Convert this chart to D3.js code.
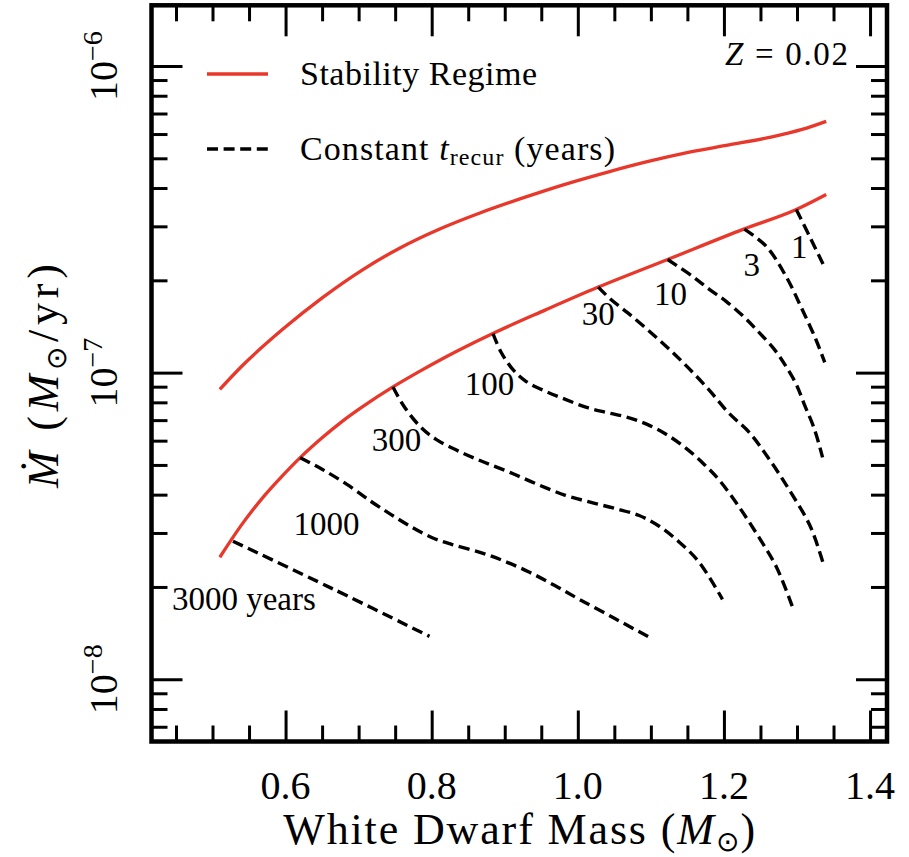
<!DOCTYPE html>
<meta charset="utf-8">
<style>
body { margin: 0; background: #fff; }
text { font-family: "Liberation Serif", "Times New Roman", serif; fill: #000; }
</style>
<svg width="909" height="857"></svg>
<script src="https://d3js.org/d3.v7.min.js"></script>
<script>

// stability regime boundaries: white dwarf mass (Msun) vs accretion rate (Msun/yr)
var upperMass = [0.510, 0.540, 0.596, 0.651, 0.707, 0.756, 0.811, 0.866, 0.929, 0.979, 1.041, 1.095, 1.151, 1.207, 1.262, 1.307, 1.340];
var upperMdot = [8.82e-8, 1.049e-7, 1.384e-7, 1.760e-7, 2.177e-7, 2.546e-7, 2.941e-7, 3.317e-7, 3.742e-7, 4.09e-7, 4.51e-7, 4.875e-7, 5.23e-7, 5.53e-7, 5.85e-7, 6.21e-7, 6.60e-7];

var lowerMass = [0.510, 0.539, 0.566, 0.594, 0.620, 0.650, 0.678, 0.706, 0.747, 0.784, 0.816, 0.883, 0.956, 1.028, 1.123, 1.227, 1.299, 1.340];
var lowerMdot = [2.50e-8, 3.17e-8, 3.84e-8, 4.56e-8, 5.28e-8, 6.13e-8, 6.95e-8, 7.76e-8, 8.98e-8, 1.011e-7, 1.114e-7, 1.339e-7, 1.602e-7, 1.901e-7, 2.339e-7, 2.938e-7, 3.404e-7, 3.811e-7];

// constant recurrence time contours (years)
var contourYears = [3000, 1000, 300, 100, 30, 10, 3, 1];
var contourMass = [
  [0.528, 0.665, 0.797],
  [0.620, 0.650, 0.684, 0.717, 0.744, 0.773, 0.800, 0.827, 0.866, 0.900, 0.934, 0.968, 1.002, 1.050, 1.098],
  [0.747, 0.762, 0.784, 0.806, 0.840, 0.872, 0.907, 0.945, 0.983, 1.017, 1.050, 1.084, 1.112, 1.139, 1.166, 1.198],
  [0.884, 0.895, 0.911, 0.929, 0.956, 0.983, 1.012, 1.039, 1.068, 1.095, 1.123, 1.150, 1.173, 1.194, 1.221, 1.248, 1.272, 1.296],
  [1.028, 1.045, 1.068, 1.095, 1.123, 1.151, 1.179, 1.206, 1.235, 1.262, 1.289, 1.318, 1.337],
  [1.123, 1.157, 1.180, 1.203, 1.228, 1.248, 1.269, 1.285, 1.299, 1.310, 1.324, 1.335],
  [1.228, 1.258, 1.285, 1.307, 1.326, 1.338],
  [1.299, 1.317, 1.338]
];
var contourMdot = [
  [2.82e-8, 1.97e-8, 1.38e-8],
  [5.28e-8, 4.84e-8, 4.32e-8, 3.80e-8, 3.45e-8, 3.13e-8, 2.90e-8, 2.755e-8, 2.595e-8, 2.425e-8, 2.233e-8, 2.025e-8, 1.823e-8, 1.581e-8, 1.370e-8],
  [8.98e-8, 7.77e-8, 6.68e-8, 6.06e-8, 5.50e-8, 5.10e-8, 4.73e-8, 4.32e-8, 3.98e-8, 3.78e-8, 3.61e-8, 3.42e-8, 3.15e-8, 2.80e-8, 2.41e-8, 1.823e-8],
  [1.339e-7, 1.165e-7, 1.025e-7, 9.37e-8, 8.69e-8, 8.18e-8, 7.70e-8, 7.42e-8, 7.15e-8, 6.78e-8, 6.25e-8, 5.62e-8, 5.02e-8, 4.45e-8, 3.64e-8, 2.90e-8, 2.32e-8, 1.666e-8],
  [1.901e-7, 1.734e-7, 1.569e-7, 1.384e-7, 1.206e-7, 1.038e-7, 8.82e-8, 7.41e-8, 6.37e-8, 5.22e-8, 4.16e-8, 3.16e-8, 2.34e-8],
  [2.339e-7, 2.061e-7, 1.869e-7, 1.708e-7, 1.515e-7, 1.353e-7, 1.191e-7, 1.048e-7, 9.16e-8, 7.88e-8, 6.53e-8, 5.29e-8],
  [2.938e-7, 2.58e-7, 2.06e-7, 1.61e-7, 1.28e-7, 1.08e-7],
  [3.404e-7, 2.79e-7, 2.20e-7]
];

// contour label text and where it sits (centre)
var labelText = ["3000 years", "1000", "300", "100", "30", "10", "3", "1"];
var labelMass = [0.543, 0.656, 0.752, 0.879, 1.028, 1.127, 1.238, 1.303];
var labelMdot = [1.84e-8, 3.23e-8, 6.06e-8, 9.23e-8, 1.56e-7, 1.815e-7, 2.25e-7, 2.58e-7];

var xMajor = [0.6, 0.8, 1.0, 1.2, 1.4];
var xMinor = [0.45, 0.5, 0.55, 0.65, 0.7, 0.75, 0.85, 0.9, 0.95, 1.05, 1.1, 1.15, 1.25, 1.3, 1.35];
var yMajor = [1e-8, 1e-7, 1e-6];
var yMinorMult = [2, 3, 4, 5, 6, 7, 8, 9];

var svg = d3.select("svg");
var pLeft = 151.5, pRight = 887, pTop = 5.3, pBottom = 741.5;
var red = "#e8382b";

var x = d3.scaleLinear().domain([0.4165, 1.4232]).range([pLeft, pRight]);
var y = d3.scaleLog().domain([Math.pow(10, -8.203), Math.pow(10, -5.802)]).range([pBottom, pTop]);

var yMinor = [];
[-9, -8, -7, -6].forEach(function(e) {
  yMinorMult.forEach(function(m) {
    var v = m * Math.pow(10, e);
    if (v > y.domain()[0] && v < y.domain()[1]) yMinor.push(v);
  });
});

// ticks on all four sides, pointing in
function ticks(axis, vals, size, tr) {
  var g = svg.append("g").attr("transform", tr)
    .call(axis.tickValues(vals).tickSize(-size).tickFormat(""));
  g.select(".domain").remove();
  g.selectAll("line").attr("stroke", "#000").attr("stroke-width", 3);
}
ticks(d3.axisBottom(x), xMajor, 31, "translate(0," + pBottom + ")");
ticks(d3.axisBottom(x), xMinor, 16, "translate(0," + pBottom + ")");
ticks(d3.axisTop(x), xMajor, 31, "translate(0," + pTop + ")");
ticks(d3.axisTop(x), xMinor, 16, "translate(0," + pTop + ")");
ticks(d3.axisLeft(y), yMajor, 31, "translate(" + pLeft + ",0)");
ticks(d3.axisLeft(y), yMinor, 16, "translate(" + pLeft + ",0)");
ticks(d3.axisRight(y), yMajor, 31, "translate(" + pRight + ",0)");
ticks(d3.axisRight(y), yMinor, 16, "translate(" + pRight + ",0)");

svg.append("rect")
  .attr("x", pLeft).attr("y", pTop)
  .attr("width", pRight - pLeft).attr("height", pBottom - pTop)
  .attr("fill", "none").attr("stroke", "#000").attr("stroke-width", 4.5);

// tick labels
svg.append("g").selectAll("text")
  .data(xMajor)
  .join("text")
    .attr("x", function(d) { return x(d); })
    .attr("y", 799)
    .attr("text-anchor", "middle")
    .attr("font-size", 40)
    .text(d3.format(".1f"));

var yl = svg.append("g").selectAll("text")
  .data(yMajor)
  .join("text")
    .attr("transform", function(d) { return "translate(117," + y(d) + ") rotate(-90)"; })
    .attr("text-anchor", "middle")
    .attr("font-size", 40);
yl.append("tspan").text("10");
yl.append("tspan")
  .attr("font-size", 28).attr("dy", -15)
  .text(function(d) { return "\u2212" + Math.round(-Math.log10(d)); });

// axis titles
var xt = svg.append("text")
  .attr("x", (pLeft + pRight) / 2).attr("y", 844)
  .attr("text-anchor", "middle")
  .attr("font-size", 44)
  .attr("textLength", 472).attr("lengthAdjust", "spacing");
xt.append("tspan").text("White Dwarf Mass (");
xt.append("tspan").attr("font-style", "italic").text("M");
xt.append("tspan").attr("font-size", 28).attr("dy", 7).text("\u2299");
xt.append("tspan").attr("dy", -7).text(")");

var yt = svg.append("text")
  .attr("transform", "translate(58,376) rotate(-90)")
  .attr("text-anchor", "middle")
  .attr("font-size", 44)
  .attr("textLength", 224).attr("lengthAdjust", "spacing");
yt.append("tspan").attr("font-style", "italic").text("\u1E40");
yt.append("tspan").text(" (");
yt.append("tspan").attr("font-style", "italic").text("M");
yt.append("tspan").attr("font-size", 28).attr("dy", 8).text("\u2299");
yt.append("tspan").attr("dy", -8).text("/yr)");

// curves
var line = d3.line()
  .x(function(d) { return x(d[0]); })
  .y(function(d) { return y(d[1]); })
  .curve(d3.curveCatmullRom.alpha(0.5));

var boundary = d3.line()
  .x(function(d) { return x(d[0]); })
  .y(function(d) { return y(d[1]); })
  .curve(d3.curveMonotoneX);

[[upperMass, upperMdot], [lowerMass, lowerMdot]].forEach(function(c) {
  svg.append("path")
    .datum(d3.zip(c[0], c[1]))
    .attr("d", boundary)
    .attr("fill", "none")
    .attr("stroke", red)
    .attr("stroke-width", 3.3);
});

contourYears.forEach(function(t, i) {
  svg.append("path")
    .datum(d3.zip(contourMass[i], contourMdot[i]))
    .attr("d", line)
    .attr("fill", "none")
    .attr("stroke", "#000")
    .attr("stroke-width", 3.4)
    .attr("stroke-dasharray", "11,5.6");
});

svg.append("g").selectAll("text")
  .data(labelText)
  .join("text")
    .attr("x", function(d, i) { return x(labelMass[i]); })
    .attr("y", function(d, i) { return y(labelMdot[i]); })
    .attr("dy", "0.35em")
    .attr("text-anchor", "middle")
    .attr("font-size", 33)
    .text(function(d) { return d; });

// legend
svg.append("line")
  .attr("x1", 207).attr("x2", 268).attr("y1", 74).attr("y2", 74)
  .attr("stroke", red).attr("stroke-width", 3.3);
svg.append("text")
  .attr("x", 300).attr("y", 85).attr("font-size", 34)
  .attr("textLength", 237).attr("lengthAdjust", "spacing")
  .text("Stability Regime");

svg.append("line")
  .attr("x1", 207).attr("x2", 268).attr("y1", 149).attr("y2", 149)
  .attr("stroke", "#000").attr("stroke-width", 3.4)
  .attr("stroke-dasharray", "11,5.6");
var lt = svg.append("text")
  .attr("x", 300).attr("y", 160).attr("font-size", 34)
  .attr("textLength", 315).attr("lengthAdjust", "spacing");
lt.append("tspan").text("Constant ");
lt.append("tspan").attr("font-style", "italic").text("t");
lt.append("tspan").attr("font-size", 24).attr("dy", 5).text("recur");
lt.append("tspan").attr("dy", -5).text(" (years)");

var zt = svg.append("text")
  .attr("x", 725).attr("y", 65).attr("font-size", 33)
  .attr("textLength", 123).attr("lengthAdjust", "spacing");
zt.append("tspan").attr("font-style", "italic").text("Z");
zt.append("tspan").text(" = 0.02");

</script>
